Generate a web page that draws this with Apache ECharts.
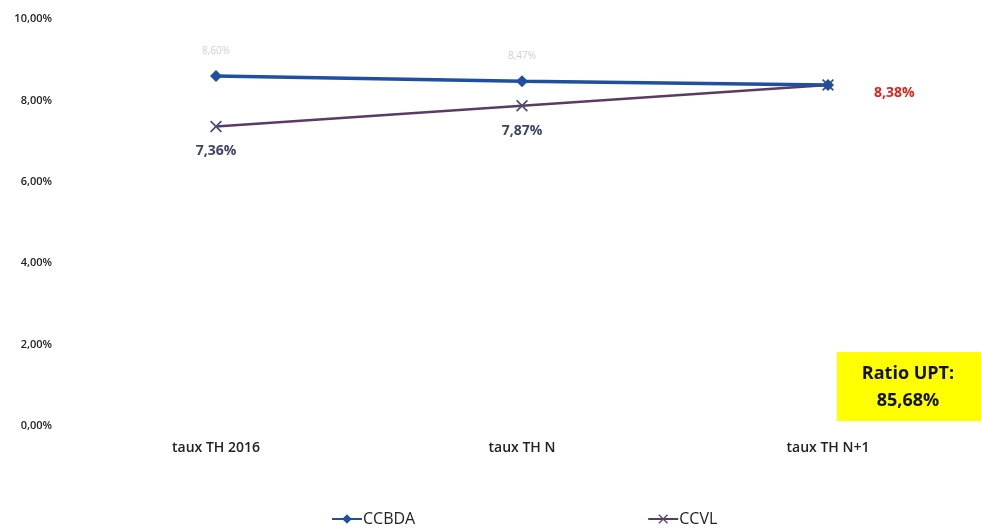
<!DOCTYPE html>
<html>
<head>
<meta charset="utf-8">
<script src="https://cdn.jsdelivr.net/npm/echarts@6/dist/echarts.min.js"></script>
<style>
  html, body { margin: 0; padding: 0; background: #fff; }
  #taux { width: 981px; height: 532px; }
</style>
</head>
<body>
<div id="taux"></div>
<script>
// valeurs
var categories = ['taux TH 2016', 'taux TH N', 'taux TH N+1'];
var ccbda = [8.60, 8.47, 8.38];
var ccvl = [7.36, 7.87, 8.38];
var yTicks = [0, 2, 4, 6, 8, 10];

var crossPath = 'path://M0,1L1,0L5,4L9,0L10,1L6,5L10,9L9,10L5,6L1,10L0,9L4,5Z';

function pct(v) {
    return v.toFixed(2).replace('.', ',') + '%';
}

var chart = echarts.init(document.getElementById('taux'));
var options = {
    animation: false,
    textStyle: { fontFamily: 'Open Sans' },
    grid: {
        left: 63,
        top: 19,
        width: 921,
        height: 407
    },
    legend: {
        bottom: 0,
        left: 326,
        itemGap: 232,
        itemWidth: 30,
        itemHeight: 12,
        textStyle: { fontSize: 16, color: '#222', fontFamily: 'Open Sans', padding: [0, 0, 0, -4] },
        data: ['CCBDA', 'CCVL']
    },
    xAxis: {
        type: 'category',
        data: categories,
        axisLine: { show: false },
        axisTick: { show: false },
        axisLabel: {
            margin: 15,
            fontSize: 14,
            fontWeight: 600,
            color: '#222'
        }
    },
    yAxis: {
        type: 'value',
        min: yTicks[0],
        max: yTicks[yTicks.length - 1],
        interval: 2,
        splitLine: { show: false },
        axisLine: { show: false },
        axisTick: { show: false },
        axisLabel: {
            margin: 11,
            fontSize: 11,
            fontWeight: 600,
            color: '#222',
            formatter: function (v) { return pct(v); }
        }
    },
    series: [
        {
            name: 'CCBDA',
            type: 'line',
            data: ccbda,
            symbol: 'diamond',
            symbolSize: 12,
            lineStyle: { color: '#1f4f9e', width: 3.5 },
            itemStyle: { color: '#1f4f9e' },
            label: {
                show: true,
                position: 'top',
                distance: 14,
                fontSize: 10,
                color: '#cfcfcf',
                formatter: function (p) {
                    return p.dataIndex < 2 ? pct(p.value) : '';
                }
            },
            z: 3
        },
        {
            name: 'CCVL',
            type: 'line',
            data: ccvl.map(function (v, i) {
                // dernière étiquette en rouge, à droite du point
                return i === 2 ? {
                    value: v,
                    label: { position: 'right', distance: 40, offset: [0, 8], color: '#e0231b' }
                } : v;
            }),
            symbol: crossPath,
            symbolSize: 12,
            lineStyle: { color: '#5b3a63', width: 2.5 },
            itemStyle: { color: '#4b4f70' },
            label: {
                show: true,
                position: 'bottom',
                distance: 12,
                fontSize: 14,
                fontWeight: 'bold',
                color: '#3d4466',
                formatter: function (p) {
                    return pct(p.value);
                }
            },
            z: 2
        }
    ],
    graphic: [
        {
            type: 'rect',
            left: 837,
            top: 352,
            shape: { width: 144, height: 69 },
            style: { fill: '#ffff00' }
        },
        {
            type: 'text',
            x: 908,
            y: 360,
            style: {
                text: 'Ratio UPT:\n85,68%',
                font: 'bold 18px "Open Sans"',
                fill: '#111',
                align: 'center',
                lineHeight: 27
            }
        }
    ]
};
chart.setOption(options);
window.addEventListener('resize', function () {
    chart.resize();
});
</script>
</body>
</html>
